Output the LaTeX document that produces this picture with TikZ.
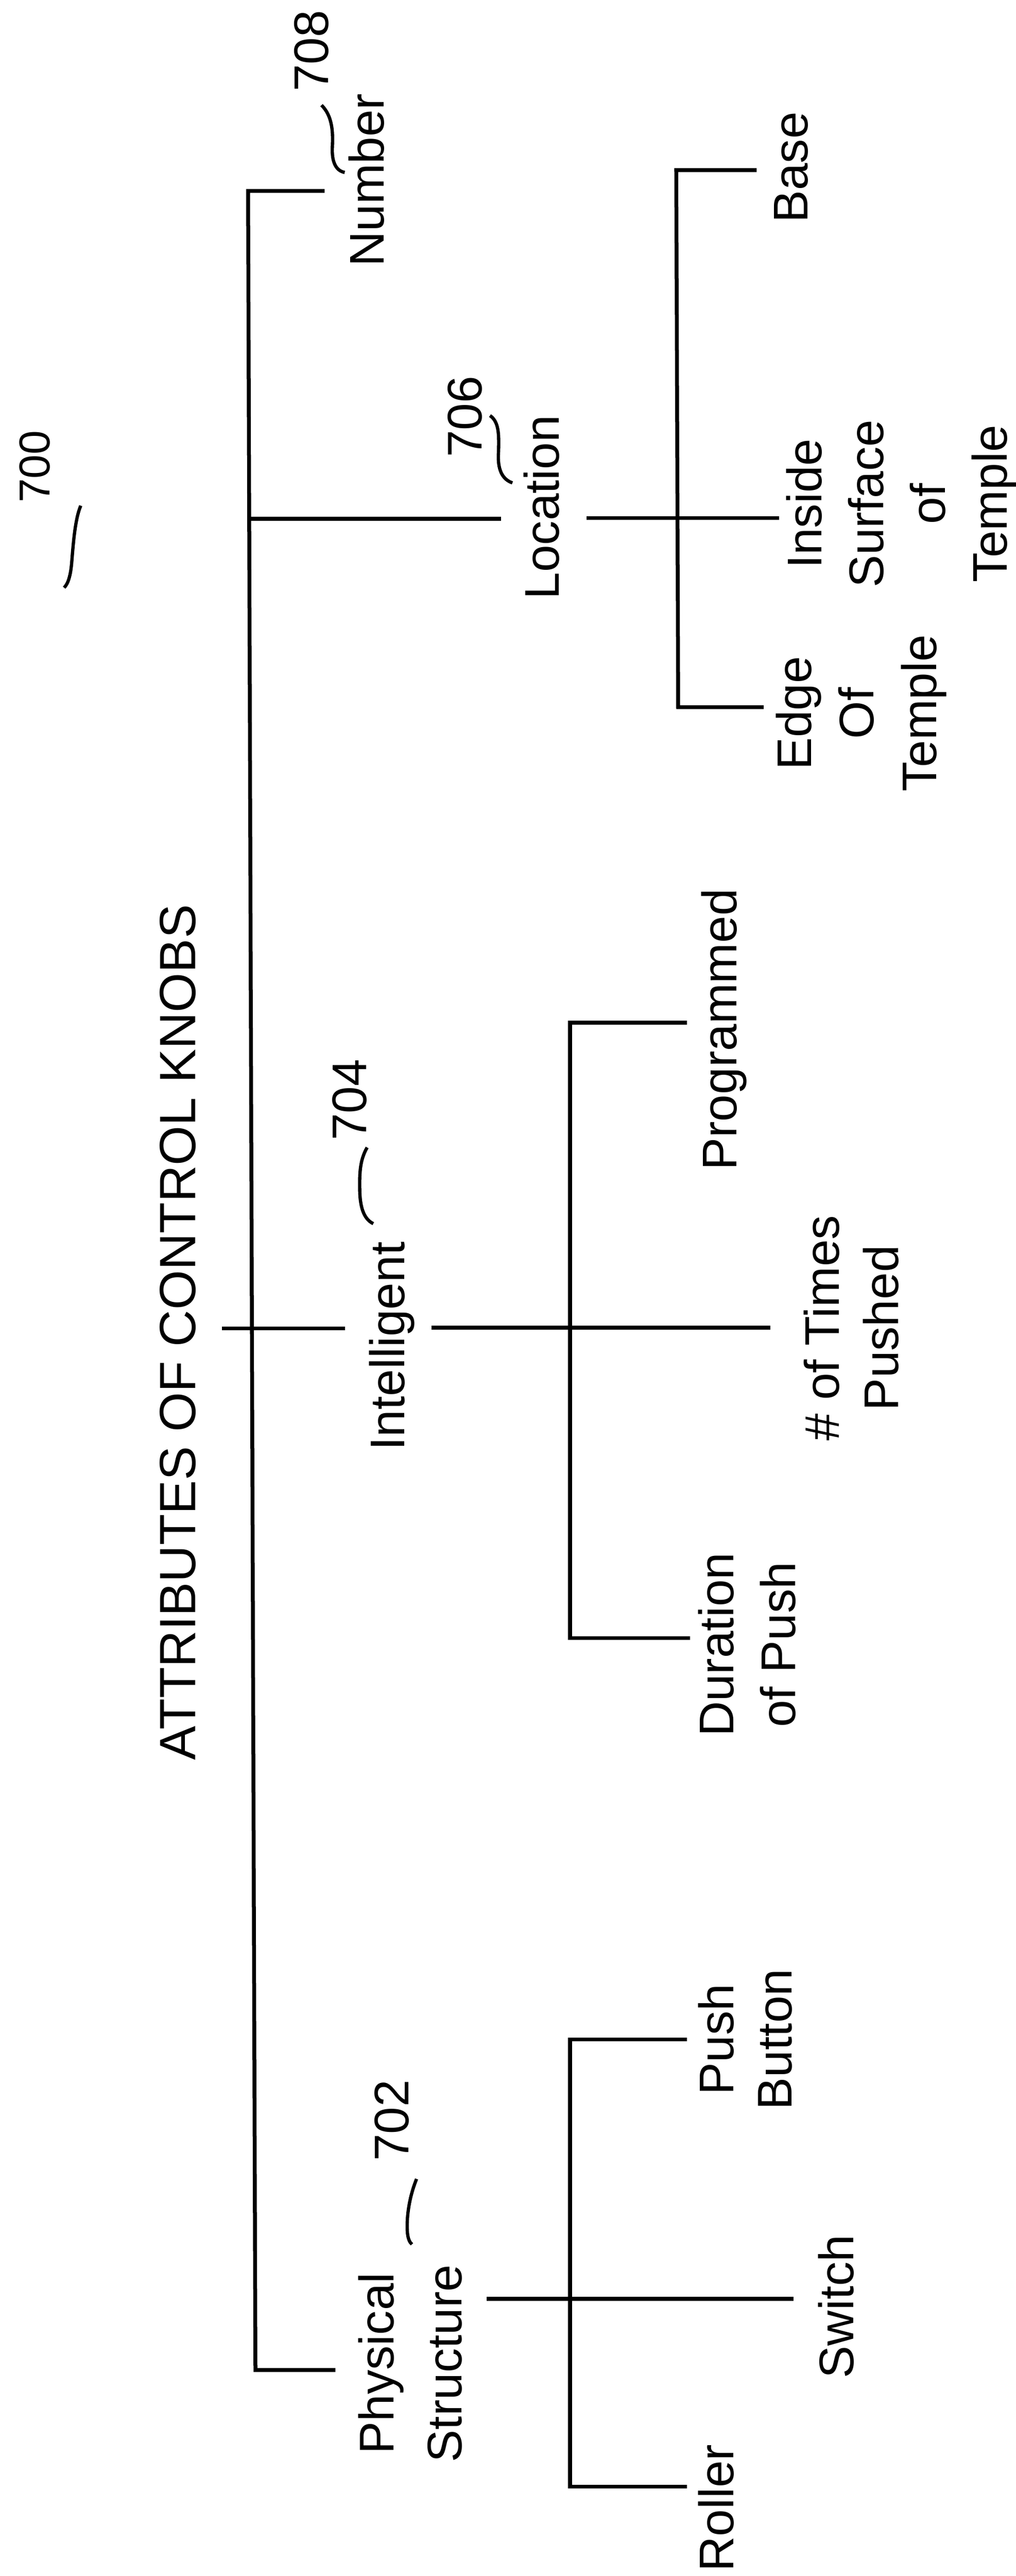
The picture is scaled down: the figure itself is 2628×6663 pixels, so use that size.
\documentclass[tikz,border=0pt]{standalone}
\usepackage{fontspec}
\setmainfont{Liberation Sans}
\begin{document}
\begin{tikzpicture}[x=0.1pt,y=-0.1pt,
  lbl/.style={rotate=90,inner sep=0pt,outer sep=0pt,anchor=north,align=center,font=\fontsize{12.6}{16}\selectfont},
  conn/.style={line width=1pt},
  lead/.style={line width=0.85pt}]
\useasboundingbox (0,0) rectangle (2628,6663);

% ---- labels ----
\node[lbl,font=\fontsize{11.2}{13}\selectfont] (n700) at (50,1207) {700};
\node[lbl,font=\fontsize{13.2}{16}\selectfont] (title) at (413,3446) {ATTRIBUTES OF CONTROL KNOBS};

\node[lbl] (n708) at (761,132) {708};
\node[lbl] (number) at (902,466) {Number};

\node[lbl] (n706) at (1159,1078) {706};
\node[lbl] (location) at (1355,1312) {Location};
\node[lbl] (base) at (2003,433) {Base};
\node[lbl] (inside) at (2035,1303) {Inside\\Surface\\of\\Temple};
\node[lbl,font=\fontsize{12.6}{16.2}\selectfont] (edge) at (2008,1845) {Edge\\Of\\Temple};

\node[lbl] (n704) at (860,2845) {704};
\node[lbl] (intelligent) at (955,3482) {Intelligent};
\node[lbl] (programmed) at (1815,2663) {Programmed};
\node[lbl,font=\fontsize{12.6}{15.3}\selectfont] (times) at (2080,3435) {\# of Times\\Pushed};
\node[lbl] (duration) at (1807,4254) {Duration\\of Push};

\node[lbl] (n702) at (969,5485) {702};
\node[lbl,font=\fontsize{12.6}{17.6}\selectfont] (physical) at (927,6113) {Physical\\Structure};
\node[lbl,font=\fontsize{12.6}{15.1}\selectfont] (push) at (1807,5275) {Push\\Button};
\node[lbl] (switch) at (2117,5966) {Switch};
\node[lbl] (roller) at (1807,6487) {Roller};

% ---- junctions ----
\coordinate (jNum) at (642,494);
\coordinate (jLoc) at (646,1342);
\coordinate (jInt) at (652,3436);
\coordinate (jPhy) at (661,6130);
\coordinate (iL) at (574,3436);

\coordinate (jBase) at (1750,440);
\coordinate (jLoc2) at (1752,1340);
\coordinate (jEdge) at (1755,1829);

\coordinate (jProg) at (1475,2645);
\coordinate (jInt2) at (1475,3434);
\coordinate (jDur) at (1475,4237);

\coordinate (jPush) at (1475,5275);
\coordinate (jPhy2) at (1475,5946);
\coordinate (jRol) at (1475,6432);

% ---- root trunk ----
\draw[conn] ([xshift=-6.2pt]number.north |- jNum) -- (jNum) -- (jPhy)
  -- ([xshift=-5.9pt]physical.north |- jPhy);
\draw[conn] (jLoc) -- ([xshift=-5.9pt]location.north |- jLoc);
\draw[conn] (iL) -- ([xshift=-6.2pt]intelligent.north |- jInt);

% ---- location subtree ----
\draw[conn] ([xshift=7.1pt]location.base |- jLoc2) -- ([xshift=-1.9pt]inside.north |- jLoc2);
\draw[conn] ([xshift=-4.5pt]base.north |- jBase) -- (jBase) -- (jEdge)
  -- ([xshift=-3.2pt]edge.north |- jEdge);

% ---- intelligent subtree ----
\draw[conn] ([xshift=7pt]intelligent.base |- jInt2) -- ([xshift=-8.6pt]times.north |- jInt2);
\draw[conn] ([xshift=-3.8pt]programmed.north |- jProg) -- (jProg) -- (jDur)
  -- ([xshift=-2.2pt]duration.north |- jDur);

% ---- physical subtree ----
\draw[conn] ([xshift=6.4pt]physical.south |- jPhy2) -- ([xshift=-6.4pt]switch.north |- jPhy2);
\draw[conn] ([xshift=-3pt]push.north |- jPush) -- (jPush) -- (jRol)
  -- ([xshift=-3pt]roller.north |- jRol);

% ---- reference leaders ----
\coordinate (l700a) at (209,1308);
\coordinate (l700b) at (166,1520);
\draw[lead] (l700a) .. controls (195,1340) and (190,1400) .. (186,1450)
  .. controls (183,1490) and (176,1510) .. (l700b);

\coordinate (l708a) at (832,272);
\coordinate (l708b) at (892,446);
\draw[lead] (l708a) .. controls (860,300) and (862,340) .. (860,380)
  .. controls (858,420) and (870,442) .. (l708b);

\coordinate (l706a) at (1268,1075);
\coordinate (l706b) at (1326,1249);
\draw[lead] (l706a) .. controls (1290,1090) and (1292,1120) .. (1290,1170)
  .. controls (1287,1215) and (1300,1240) .. (l706b);

\coordinate (l704a) at (950,2968);
\coordinate (l704b) at (966,3165);
\draw[lead] (l704a) .. controls (932,3000) and (930,3030) .. (931,3080)
  .. controls (932,3130) and (945,3155) .. (l704b);

\coordinate (l702a) at (1078,5636);
\coordinate (l702b) at (1066,5805);
\draw[lead] (l702a) .. controls (1060,5680) and (1052,5730) .. (1054,5770)
  .. controls (1055,5790) and (1060,5800) .. (l702b);
\end{tikzpicture}
\end{document}
